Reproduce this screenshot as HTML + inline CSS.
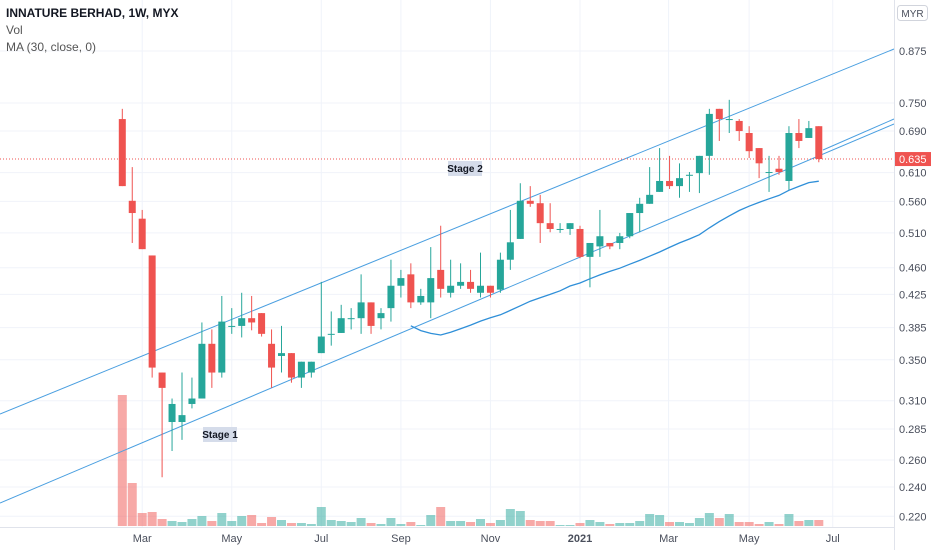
<!DOCTYPE html>
<html><head><meta charset="utf-8">
<style>
html,body{margin:0;padding:0;background:#fff;}
#wrap{position:relative;width:932px;height:550px;overflow:hidden;font-family:"Liberation Sans",sans-serif;}
.hdr{position:absolute;left:6px;font-size:12px;color:#555;}
</style></head>
<body>
<div id="wrap">
<svg id="chart" width="932" height="550"></svg>
<div class="hdr" style="top:6px;font-weight:bold;color:#131722;">INNATURE BERHAD, 1W, MYX</div>
<div class="hdr" style="top:23px;">Vol</div>
<div class="hdr" style="top:40px;">MA (30, close, 0)</div>
</div>
<script>
const opens  = [.715,.561,.532,.477,.337,.291,.291,.307,.312,.367,.337,.387,.387,.396,.402,.367,.354,.357,.332,.337,.357,.378,.379,.396,.396,.415,.396,.408,.436,.451,.415,.415,.457,.427,.436,.441,.427,.436,.431,.471,.501,.561,.557,.525,.516,.516,.516,.475,.490,.495,.495,.505,.541,.556,.576,.595,.586,.606,.609,.641,.737,.715,.711,.686,.656,.611,.617,.595,.686,.676,.700];
const highs  = [.737,.620,.546,.477,.337,.312,.337,.332,.391,.383,.423,.408,.427,.423,.402,.383,.387,.357,.348,.348,.441,.404,.412,.408,.451,.415,.408,.471,.457,.466,.432,.489,.521,.471,.466,.457,.481,.436,.481,.546,.591,.586,.571,.557,.525,.525,.521,.495,.546,.495,.510,.541,.566,.620,.656,.641,.627,.611,.641,.737,.737,.757,.715,.700,.656,.641,.641,.700,.715,.711,.700];
const lows   = [.586,.495,.486,.332,.247,.267,.276,.303,.312,.322,.332,.378,.374,.382,.375,.322,.337,.327,.322,.332,.357,.365,.379,.383,.378,.378,.383,.392,.421,.408,.412,.396,.421,.421,.432,.427,.421,.421,.427,.457,.501,.551,.495,.511,.510,.507,.473,.434,.475,.486,.486,.502,.511,.556,.576,.581,.566,.576,.574,.606,.670,.686,.670,.637,.600,.576,.606,.579,.656,.676,.629];
const closes = [.586,.541,.486,.342,.322,.307,.297,.312,.367,.337,.392,.387,.396,.391,.378,.342,.357,.332,.348,.348,.375,.378,.396,.396,.415,.387,.402,.436,.446,.415,.423,.446,.432,.436,.441,.432,.436,.427,.471,.496,.561,.556,.525,.516,.516,.525,.475,.495,.505,.490,.505,.541,.556,.571,.595,.586,.600,.606,.641,.726,.715,.715,.690,.650,.627,.611,.611,.686,.670,.696,.635];
const volumes = [1310,430,130,140,70,50,40,70,100,50,130,50,100,110,30,90,60,30,30,20,190,60,50,40,80,30,20,80,20,40,10,110,190,50,50,40,70,30,60,170,150,60,50,50,10,10,30,60,40,20,30,30,50,120,110,40,40,30,80,130,80,120,40,40,20,40,20,120,50,60,60];
const priceTicks = [0.220,0.240,0.260,0.285,0.310,0.350,0.385,0.425,0.460,0.510,0.560,0.610,0.690,0.750,0.875];
const timeLabels = ["Mar","May","Jul","Sep","Nov","2021","Mar","May","Jul"];
const timeLabelIdx = [2,11,20,28,37,46,54.9,63,71.4];
const lastPrice = 0.635;
const maPeriod = 30;

const NS="http://www.w3.org/2000/svg";
const svg=document.getElementById('chart');
const AXIS_X=894, VOL_BASE=526;
function xOf(i){return 122.3+i*9.95;}
function yOf(p){return 51+(Math.log(0.875)-Math.log(p))*337;}
function mk(tag,attrs,parent){const e=document.createElementNS(NS,tag);for(const k in attrs)e.setAttribute(k,attrs[k]);(parent||svg).appendChild(e);return e;}
const G=(n)=>{const g=mk('g',{});return g;};

// grid
const grid=G('grid-lines');
priceTicks.forEach(p=>{const l=mk('line',{x1:0,x2:AXIS_X,y1:yOf(p),y2:yOf(p),stroke:'#f0f3fa','stroke-width':1},grid);

});
timeLabelIdx.forEach(i=>{const l=mk('line',{x1:xOf(i),x2:xOf(i),y1:0,y2:VOL_BASE+1,stroke:'#f0f3fa','stroke-width':1},grid);

});

// volume
const vg=G('volume-bars');
const vMax=Math.max(...volumes);
volumes.forEach((v,i)=>{const h=v/vMax*131;const up=closes[i]>=opens[i];
const r=mk('rect',{x:xOf(i)-4.5,y:VOL_BASE-h,width:9,height:h,fill:up?'rgba(38,166,154,0.5)':'rgba(239,83,80,0.5)'},vg);

});

// channel lines
const cg=G('trend-channel');
[[0,414,894,49],[0,503,894,124],[823,150,894,119]].forEach(c=>{const l=mk('line',{x1:c[0],y1:c[1],x2:c[2],y2:c[3],stroke:'#4a9fe0','stroke-width':1},cg);

});

// last price line
const lp=mk('line',{x1:0,x2:AXIS_X,y1:yOf(lastPrice),y2:yOf(lastPrice),stroke:'#ef5350','stroke-width':1,'stroke-dasharray':'1,2'});



// candles
const kg=G('candles');
closes.forEach((c,i)=>{const o=opens[i],up=c>=o,col=up?'#26a69a':'#ef5350',x=xOf(i);
const w=mk('line',{x1:x,x2:x,y1:yOf(highs[i]),y2:yOf(lows[i]),stroke:col,'stroke-width':1},kg);


const yt=yOf(Math.max(o,c)),yb=yOf(Math.min(o,c));
const b=mk('rect',{x:x-3.5,y:yt,width:7,height:Math.max(1,yb-yt),fill:col},kg);

});

// MA
let pts=[];
for(let i=maPeriod-1;i<closes.length;i++){let s=0;for(let j=i-maPeriod+1;j<=i;j++)s+=closes[j];pts.push(xOf(i).toFixed(1)+','+yOf(s/maPeriod).toFixed(1));}
const ma=mk('polyline',{points:pts.join(' '),fill:'none',stroke:'#2f8fd8','stroke-width':1.3});



// stage labels
[["Stage 1",203,427],["Stage 2",448,161]].forEach(s=>{const g=G('stage-label');
mk('rect',{x:s[1],y:s[2],width:34,height:15,fill:'#d5dcea'},g);
const t=mk('text',{x:s[1]+17,y:s[2]+11,'text-anchor':'middle','font-size':'10','font-weight':'bold','fill':'#131722','font-family':'Liberation Sans, sans-serif'},g);t.textContent=s[0];});

// axes
const ax=G('axes');
mk('line',{x1:AXIS_X+0.5,x2:AXIS_X+0.5,y1:0,y2:550,stroke:'#e0e3eb'},ax);
mk('line',{x1:0,x2:AXIS_X,y1:VOL_BASE+1.5,y2:VOL_BASE+1.5,stroke:'#e0e3eb'},ax);
priceTicks.forEach(p=>{const t=mk('text',{x:899,y:yOf(p)+4,'font-size':'11',fill:'#4a4f5c','font-family':'Liberation Sans, sans-serif'},ax);t.textContent=p.toFixed(3);

});
timeLabels.forEach((s,k)=>{const t=mk('text',{x:xOf(timeLabelIdx[k]),y:542,'text-anchor':'middle','font-size':'11',fill:'#4a4f5c','font-weight':s==='2021'?'bold':'normal','font-family':'Liberation Sans, sans-serif'},ax);t.textContent=s;

});
// last price tag
const tg=G('last-price-tag');
mk('rect',{x:895,y:yOf(lastPrice)-7,width:36,height:14,fill:'#ef5350'},tg);
const lt=mk('text',{x:899,y:yOf(lastPrice)+4,'font-size':'11',fill:'#fff','font-family':'Liberation Sans, sans-serif'},tg);lt.textContent=lastPrice.toFixed(3);
// currency
const cur=G('currency-button');

mk('rect',{x:897.5,y:5.5,width:30,height:15,rx:3,fill:'#fff',stroke:'#d1d4dc'},cur);
const ct=mk('text',{x:912.5,y:17,'text-anchor':'middle','font-size':'10',fill:'#4a4f5c','font-family':'Liberation Sans, sans-serif'},cur);ct.textContent='MYR';
</script>
</body></html>
